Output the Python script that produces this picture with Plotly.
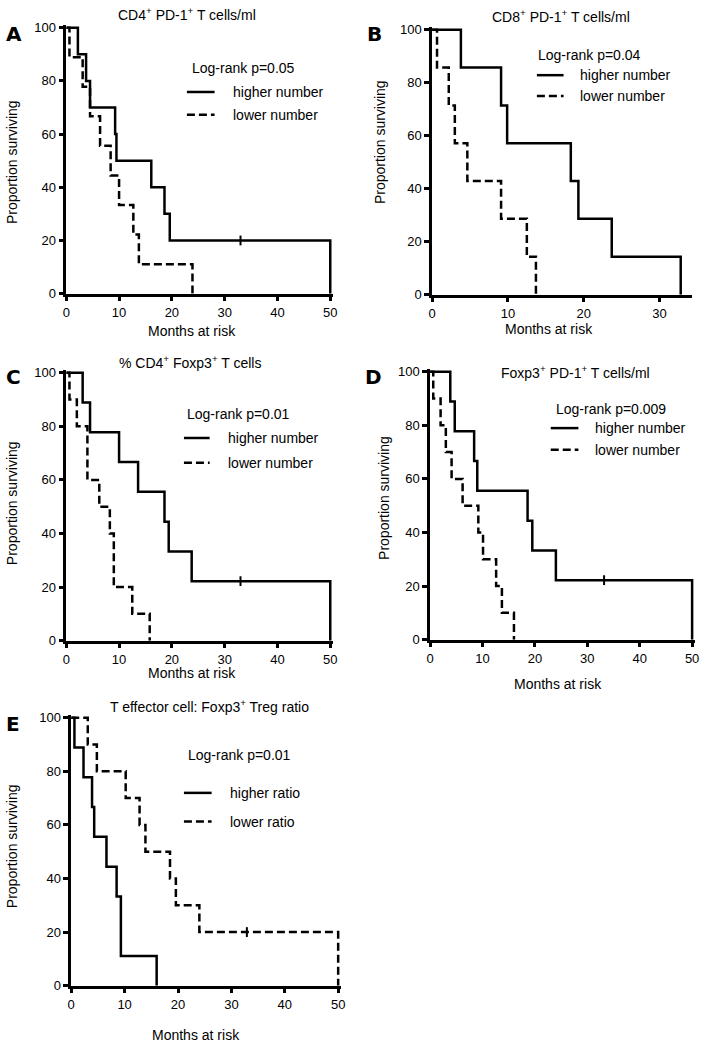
import plotly.graph_objects as go

W, H = 706, 1050
FONT = "Liberation Sans, Arial, sans-serif"
DASH = "8px,4px"

# ---------------- data (months, % surviving) ----------------
# Panel A: CD4+ PD-1+ T cells/ml
A_hi_t = [0, 2.2, 3.75, 4.5, 9.25, 9.5, 16.1, 18.6, 19.6, 50]
A_hi_s = [100, 90, 80, 70, 60, 50, 40, 30, 20, 0]
A_hi_cens_t = [33]
A_hi_cens_s = [20]
A_lo_t = [0, 0.6, 3.1, 4.5, 6.4, 8.4, 10.0, 12.7, 13.75, 23.9]
A_lo_s = [100, 88.9, 77.8, 66.7, 55.6, 44.4, 33.3, 22.2, 11.1, 0]

# Panel B: CD8+ PD-1+ T cells/ml
B_hi_t = [0, 3.8, 9.1, 9.9, 18.3, 19.3, 23.7, 32.8]
B_hi_s = [100, 85.7, 71.4, 57.1, 42.9, 28.6, 14.3, 0]
B_lo_t = [0, 0.65, 2.2, 3.0, 4.65, 9.1, 12.5, 13.7]
B_lo_s = [100, 85.7, 71.4, 57.1, 42.9, 28.6, 14.3, 0]

# Panel C: % CD4+ Foxp3+ T cells
C_hi_t = [0, 3.1, 4.5, 10.0, 13.6, 18.6, 19.4, 23.75, 50]
C_hi_s = [100, 88.9, 77.8, 66.7, 55.6, 44.4, 33.3, 22.2, 0]
C_hi_cens_t = [33]
C_hi_cens_s = [22.2]
C_lo_t = [0, 0.6, 2.0, 4.0, 6.25, 8.25, 9.0, 12.5, 15.8]
C_lo_s = [100, 90, 80, 60, 50, 40, 20, 10, 0]

# Panel D: Foxp3+ PD-1+ T cells/ml
D_hi_t = [0, 3.85, 4.7, 8.4, 9.0, 18.6, 19.5, 24.0, 50]
D_hi_s = [100, 88.9, 77.8, 66.7, 55.6, 44.4, 33.3, 22.2, 0]
D_hi_cens_t = [33.2]
D_hi_cens_s = [22.2]
D_lo_t = [0, 0.6, 2.0, 3.0, 4.1, 6.2, 9.2, 10.1, 12.6, 13.7, 16.0]
D_lo_s = [100, 90, 80, 70, 60, 50, 40, 30, 20, 10, 0]

# Panel E: T effector cell : Foxp3+ Treg ratio
E_hi_t = [0, 0.6, 2.3, 3.9, 4.3, 6.6, 8.5, 9.3, 16.0]
E_hi_s = [100, 88.9, 77.8, 66.7, 55.6, 44.4, 33.3, 11.1, 0]
E_lo_t = [0, 3.1, 4.8, 10.2, 12.8, 13.9, 18.5, 19.6, 24.0, 50]
E_lo_s = [100, 90, 80, 70, 60, 50, 40, 30, 20, 0]
E_lo_cens_t = [32.9]
E_lo_cens_s = [20]

y_ticks = [0, 20, 40, 60, 80, 100]
x_ticks_50 = [0, 10, 20, 30, 40, 50]
x_ticks_30 = [0, 10, 20, 30]

titles = ["CD4<sup>+</sup> PD-1<sup>+</sup> T cells/ml",
          "CD8<sup>+</sup> PD-1<sup>+</sup> T cells/ml",
          "% CD4<sup>+</sup> Foxp3<sup>+</sup> T cells",
          "Foxp3<sup>+</sup> PD-1<sup>+</sup> T cells/ml",
          "T effector cell: Foxp3<sup>+</sup> Treg ratio"]
letters = ["A", "B", "C", "D", "E"]
pvals = ["Log-rank p=0.05", "Log-rank p=0.04", "Log-rank p=0.01",
         "Log-rank p=0.009", "Log-rank p=0.01"]
hi_names = ["higher number"] * 4 + ["higher ratio"]
lo_names = ["lower number"] * 4 + ["lower ratio"]
hi_styles = ["solid"] * 5
lo_styles = [DASH] * 5

# ---------------- layout geometry (pixels) ----------------
geom = [
    dict(x0=63, ppu=(330 - 63) / 50, xmax=50.6, y0=293, y100=24, xt=x_ticks_50),
    dict(x0=433, ppu=(663 - 433) / 30, xmax=34.3, y0=294, y100=26, xt=x_ticks_30),
    dict(x0=63, ppu=(330 - 63) / 50, xmax=50.6, y0=644, y100=373, xt=x_ticks_50),
    dict(x0=431, ppu=(696 - 431) / 50, xmax=50.6, y0=643, y100=372, xt=x_ticks_50),
    dict(x0=68, ppu=(338 - 68) / 50, xmax=50.6, y0=993, y100=722, xt=x_ticks_50),
]
YMAX = 101.2

title_pos = [(185, 10), (563, 12), (188, 362), (578, 372), (208, 710)]
letter_pos = [(10, 30), (375, 30), (10, 377), (374, 377), (9, 728)]
ytitle_pos = [(8, 160), (381, 140), (8, 505), (385, 500), (8, 852)]
xtitle_pos = [(190, 331), (551, 329), (190, 677), (560, 688), (194, 1043)]
legend_pos = [
    dict(hx=188, hy=65, lx0=185, lx1=213, yh=89, yl=112, tx=230),
    dict(hx=538, hy=52, lx0=539, lx1=566, yh=72, yl=93, tx=581),
    dict(hx=183, hy=415, lx0=182, lx1=208, yh=439, yl=464, tx=225),
    dict(hx=556, hy=410, lx0=553, lx1=581, yh=429, yl=451, tx=596),
    dict(hx=184, hy=760, lx0=182, lx1=210, yh=798, yl=827, tx=227),
]

series = [
    (A_hi_t, A_hi_s, A_lo_t, A_lo_s, (A_hi_cens_t, A_hi_cens_s)),
    (B_hi_t, B_hi_s, B_lo_t, B_lo_s, None),
    (C_hi_t, C_hi_s, C_lo_t, C_lo_s, (C_hi_cens_t, C_hi_cens_s)),
    (D_hi_t, D_hi_s, D_lo_t, D_lo_s, (D_hi_cens_t, D_hi_cens_s)),
    (E_hi_t, E_hi_s, E_lo_t, E_lo_s, (E_lo_cens_t, E_lo_cens_s)),
]

fig = go.Figure()
layout = dict(width=W, height=H, margin=dict(l=0, r=0, t=0, b=0),
              paper_bgcolor="white", plot_bgcolor="white", showlegend=False,
              font=dict(family=FONT, size=14, color="black"))
annotations = []
shapes = []


def px2x(px):
    return px / W


def px2y(py):
    return 1 - py / H


for i in range(5):
    g = geom[i]
    n = "" if i == 0 else str(i + 1)
    xr, yr = "x" + n, "y" + n
    yppu = (g["y0"] - g["y100"]) / 100.0
    xdom = [px2x(g["x0"]), min(1.0, px2x(g["x0"] + g["xmax"] * g["ppu"]))]
    ydom = [px2y(g["y0"]), px2y(g["y0"] - YMAX * yppu)]
    common = dict(showgrid=False, zeroline=False, showline=True, linewidth=2.5,
                  linecolor="black", ticks="outside", ticklen=5, tickwidth=2.5,
                  tickcolor="black", tickfont=dict(family=FONT, size=13, color="black"),
                  fixedrange=True)
    layout["xaxis" + n] = dict(domain=xdom, range=[0, g["xmax"]], anchor=yr,
                               tickmode="array", tickvals=g["xt"], **common)
    layout["yaxis" + n] = dict(domain=ydom, range=[0, YMAX], anchor=xr,
                               tickmode="array", tickvals=y_ticks, **common)

    ht, hs, lt, ls, cens = series[i]
    fig.add_trace(go.Scatter(x=ht, y=hs, mode="lines", line_shape="hv",
                             line=dict(color="black", width=2.5, dash=hi_styles[i]),
                             xaxis=xr, yaxis=yr, name=hi_names[i], hoverinfo="skip"))
    fig.add_trace(go.Scatter(x=lt, y=ls, mode="lines", line_shape="hv",
                             line=dict(color="black", width=2.5, dash=lo_styles[i]),
                             xaxis=xr, yaxis=yr, name=lo_names[i], hoverinfo="skip"))
    if cens is not None:
        fig.add_trace(go.Scatter(x=cens[0], y=cens[1], mode="markers",
                                 marker=dict(symbol="line-ns", size=7,
                                             line=dict(color="black", width=2)),
                                 xaxis=xr, yaxis=yr, cliponaxis=False, hoverinfo="skip"))

    tx, ty = title_pos[i]
    annotations.append(dict(text=titles[i], x=px2x(tx), y=px2y(ty), xref="paper",
                            yref="paper", showarrow=False, xanchor="center",
                            yanchor="middle", font=dict(size=14)))
    lx, ly = letter_pos[i]
    annotations.append(dict(text="<b>" + letters[i] + "</b>", x=px2x(lx), y=px2y(ly),
                            xref="paper", yref="paper", showarrow=False,
                            xanchor="center", yanchor="middle",
                            font=dict(size=20, family="DejaVu Sans, Liberation Sans, sans-serif")))
    ax, ay = ytitle_pos[i]
    annotations.append(dict(text="Proportion surviving", x=px2x(ax), y=px2y(ay),
                            xref="paper", yref="paper", showarrow=False, textangle=-90,
                            xanchor="center", yanchor="middle", font=dict(size=14)))
    bx, by = xtitle_pos[i]
    annotations.append(dict(text="Months at risk", x=px2x(bx), y=px2y(by),
                            xref="paper", yref="paper", showarrow=False,
                            xanchor="center", yanchor="middle", font=dict(size=14)))
    L = legend_pos[i]
    annotations.append(dict(text=pvals[i], x=px2x(L["hx"]), y=px2y(L["hy"]),
                            xref="paper", yref="paper", showarrow=False,
                            xanchor="left", yanchor="middle", font=dict(size=14)))
    for name, yy, st in ((hi_names[i], L["yh"], hi_styles[i]),
                         (lo_names[i], L["yl"], lo_styles[i])):
        shapes.append(dict(type="line", xref="paper", yref="paper",
                           x0=px2x(L["lx0"]), x1=px2x(L["lx1"]),
                           y0=px2y(yy), y1=px2y(yy),
                           line=dict(color="black", width=2.5, dash=st)))
        annotations.append(dict(text=name, x=px2x(L["tx"]), y=px2y(yy),
                                xref="paper", yref="paper", showarrow=False,
                                xanchor="left", yanchor="middle", font=dict(size=14)))

layout["annotations"] = annotations
layout["shapes"] = shapes
fig.update_layout(**layout)
fig.write_html("out.html", config={"displayModeBar": False},
               post_script="document.body.style.margin='0';document.body.style.overflow='hidden';")
